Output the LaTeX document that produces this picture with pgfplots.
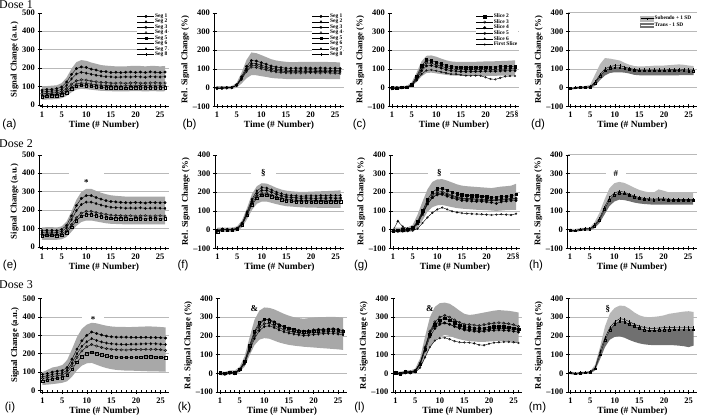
\documentclass[border=0pt]{standalone}
\usepackage{fontspec}
\setmainfont{Liberation Serif}
\newfontfamily\arialfont{Liberation Sans}
\usepackage{pgfplots}
\pgfplotsset{compat=1.18}
\usepackage{pgfplotstable}
\usepgfplotslibrary{fillbetween}

\definecolor{bandc}{gray}{0.66}
\definecolor{lband}{gray}{0.72}
\definecolor{dband}{gray}{0.44}

\pgfplotstableread{
t lo hi s1 s2 s3 s4 s5
1 28 100 80 70 60 52 45
2 29 102 83 72 61 54 47
3 30 104 84 75 64 55 49
4 31 106 88 76 66 58 50
5 36 118 97 84 72 63 55
6 48 148 124 106 88 76 67
7 68 196 165 141 112 97 87
8 83 232 197 168 131 113 102
9 87 243 206 177 136 118 106
10 85 239 203 172 134 117 104
11 82 230 194 166 129 112 101
12 79 223 189 161 125 109 98
13 76 216 181 157 122 106 95
14 75 213 180 153 121 104 94
15 74 211 176 152 118 104 92
16 73 209 177 150 118 103 93
17 73 209 175 151 119 102 92
18 73 209 177 152 117 103 91
19 74 211 178 151 119 104 93
20 74 211 176 153 120 103 94
21 74 211 178 152 118 105 92
22 73 209 176 150 118 103 93
23 74 211 179 153 119 104 94
24 74 211 177 152 120 103 92
25 73 209 176 151 118 104 93
26 74 211 178 153 119 103 94
}\tA

\pgfplotstableread{
t lo hi s1 s2 s3 s4
1 -8 8 -3 -5 -2 -4
2 -8 8 -2 -3 -4 -1
3 -8 8 0 -1 0 -2
4 -8 8 0 0 1 0
5 0 26 15 13 12 11
6 22 80 58 52 48 44
7 50 148 113 101 94 86
8 67 188 145 130 120 110
9 66 184 142 127 118 108
10 61 174 133 120 110 101
11 57 163 125 112 103 95
12 52 152 116 104 96 88
13 49 145 110 99 91 84
14 48 141 107 96 89 81
15 46 138 104 94 86 79
16 45 136 103 92 85 78
17 45 136 104 93 84 79
18 46 138 104 94 86 78
19 46 138 105 94 86 79
20 46 138 104 95 87 80
21 46 138 103 94 85 79
22 46 138 105 93 86 78
23 46 138 104 94 87 80
24 45 136 103 92 85 78
25 45 136 104 93 84 77
26 45 134 102 91 84 76
}\tB

\pgfplotstableread{
t lo hi c1 c2 c3 f
1 -10 8 0 -3 -5 -8
2 -10 8 -2 0 -3 -5
3 -8 8 2 1 0 -2
4 -6 10 3 2 1 0
5 5 28 16 14 12 10
6 30 80 60 53 46 38
7 60 140 116 103 90 72
8 78 170 148 132 116 92
9 80 172 145 130 118 95
10 76 165 136 122 112 90
11 72 155 127 114 104 84
12 68 146 118 106 96 78
13 65 140 112 101 90 72
14 64 138 110 98 88 72
15 63 137 108 96 86 68
16 62 137 107 95 85 64
17 62 137 107 95 85 63
18 63 138 108 96 86 64
19 63 139 109 96 87 63
20 63 140 110 97 88 55
21 63 140 110 97 88 46
22 63 141 110 98 88 44
23 64 142 111 98 89 52
24 64 143 112 99 90 60
25 64 144 112 100 90 62
26 65 146 113 100 90 62
}\tC

\pgfplotstableread{
t lo hi sub tr
1 -10 0 -5 -5
2 -8 5 0 -1
3 -5 8 3 2
4 -5 8 2 1
5 -3 15 5 3
6 10 70 30 25
7 40 125 70 62
8 65 158 100 90
9 78 155 112 102
10 82 150 118 106
11 82 145 118 106
12 80 132 110 102
13 75 122 103 98
14 68 115 97 92
15 66 113 95 90
16 66 114 95 90
17 66 115 95 90
18 66 117 95 90
19 66 118 95 90
20 66 118 95 90
21 66 120 96 90
22 66 122 96 90
23 66 124 97 91
24 67 122 96 90
25 67 118 95 89
26 67 115 95 89
}\tD

\pgfplotstableread{
t lo hi e1 e2 e3 e4
1 38 105 88 78 68 60
2 38 107 90 80 70 62
3 38 107 90 80 70 62
4 38 105 88 78 68 60
5 41 111 94 83 72 63
6 54 137 117 103 87 77
7 82 193 168 147 121 108
8 114 256 225 197 158 143
9 135 298 263 230 183 166
10 143 315 278 243 193 175
11 143 315 278 243 193 175
12 138 304 268 235 187 169
13 133 294 259 227 181 164
14 128 286 251 220 176 159
15 125 280 246 215 172 155
16 124 277 244 213 171 154
17 123 275 242 212 169 153
18 122 273 240 210 168 152
19 122 273 239 211 169 151
20 122 273 241 210 167 153
21 122 273 240 212 168 152
22 122 273 238 209 169 151
23 122 273 241 210 167 153
24 122 273 240 211 168 152
25 122 273 239 210 169 151
26 122 273 240 209 167 152
}\tE

\pgfplotstableread{
t lo hi f1 f2 f3 f4
1 -15 10 -8 -5 -3 -10
2 -12 10 2 -2 3 0
3 -12 10 2 0 0 -2
4 -12 10 0 -3 2 -2
5 -8 18 6 4 7 3
6 12 50 32 29 34 26
7 55 115 88 82 95 76
8 105 190 151 140 162 132
9 138 232 193 179 207 168
10 150 248 210 195 225 183
11 150 246 210 195 222 185
12 143 235 200 185 212 176
13 136 223 189 176 200 167
14 130 214 181 168 192 159
15 125 208 174 162 185 154
16 123 205 172 160 183 152
17 121 203 170 157 181 150
18 119 201 167 156 178 148
19 118 202 169 155 180 149
20 117 203 168 157 181 147
21 117 204 167 156 180 148
22 116 205 169 155 182 149
23 116 206 168 157 181 147
24 116 207 170 156 183 148
25 116 208 168 155 182 149
26 116 210 169 157 183 148
}\tF

\pgfplotstableread{
t lo hi g1 g2 g3 g4 f
1 -15 10 -5 -8 -10 -5 -5
2 -15 10 -3 -5 -8 45 -10
3 -15 10 0 -2 -5 15 -10
4 -12 12 2 0 -3 5 -8
5 -8 25 10 8 5 5 -6
6 10 80 45 40 35 30 5
7 50 150 100 92 85 80 35
8 95 215 160 148 138 135 65
9 120 255 200 185 172 170 90
10 130 268 218 200 186 192 108
11 132 270 222 203 188 195 118
12 126 262 210 192 178 186 108
13 120 252 200 183 170 178 98
14 115 242 192 175 162 170 92
15 112 235 186 168 156 165 88
16 110 232 184 166 154 162 86
17 108 230 182 165 152 160 84
18 106 228 180 163 150 158 83
19 105 226 178 162 150 158 82
20 104 224 175 160 148 157 80
21 102 222 172 158 145 156 78
22 100 226 174 160 140 157 80
23 102 230 176 162 148 158 82
24 104 232 178 164 152 160 80
25 105 235 180 166 154 162 78
26 106 245 188 168 155 165 85
}\tG

\pgfplotstableread{
t lo hi sub tr
1 -12 5 -3 -5
2 -12 3 -5 -6
3 -8 8 2 0
4 -5 10 5 3
5 -5 10 5 3
6 8 40 25 20
7 35 90 60 52
8 80 160 120 108
9 125 220 170 158
10 150 248 195 185
11 160 255 205 195
12 158 250 200 192
13 152 238 190 183
14 145 225 180 174
15 140 213 172 166
16 137 205 168 162
17 135 200 165 160
18 133 198 163 158
19 133 215 165 160
20 133 208 165 160
21 133 200 163 158
22 133 200 162 157
23 133 200 162 157
24 133 200 162 157
25 133 200 162 157
26 133 200 162 157
}\tH

\pgfplotstableread{
t lo hi i1 i2 i3 i4
1 30 100 88 75 65 52
2 32 112 92 80 70 56
3 35 125 100 88 76 62
4 38 130 105 92 80 66
5 42 138 108 95 84 70
6 50 165 125 110 98 82
7 75 225 170 150 135 115
8 110 290 225 200 180 155
9 135 335 270 240 215 185
10 148 358 300 265 238 200
11 150 368 318 282 250 208
12 140 365 310 272 242 200
13 130 358 302 264 234 194
14 122 352 296 258 228 188
15 116 348 292 254 224 184
16 112 346 290 252 222 182
17 110 346 290 251 221 181
18 108 345 290 250 220 180
19 108 345 289 252 222 181
20 107 346 289 252 222 181
21 106 347 289 253 223 182
22 105 348 289 254 224 183
23 104 348 288 254 224 183
24 104 347 288 254 224 182
25 103 345 287 252 222 180
26 102 343 285 250 218 178
}\tI

\pgfplotstableread{
t lo hi k1 k2 k3 k4
1 -10 10 0 -2 0 2
2 -12 8 -3 -5 -2 0
3 -5 15 5 2 0 6
4 -6 15 3 0 -2 4
5 8 35 20 18 15 22
6 35 90 60 55 50 65
7 95 190 140 130 120 148
8 150 285 215 200 185 225
9 180 335 260 245 228 270
10 188 352 285 265 250 290
11 185 350 288 268 254 282
12 175 342 275 256 245 270
13 165 330 260 244 232 258
14 158 318 250 234 222 248
15 152 308 242 226 215 240
16 148 300 235 220 210 232
17 145 295 230 216 206 226
18 142 292 225 212 202 222
19 140 295 228 214 204 224
20 138 298 232 218 207 226
21 136 300 235 220 210 228
22 134 300 235 221 212 230
23 132 302 236 222 213 232
24 130 302 238 222 213 234
25 128 300 235 220 210 230
26 125 298 228 216 206 224
}\tK

\pgfplotstableread{
t lo hi l1 l2 l3 l4 f
1 -8 10 5 2 0 3 0
2 -10 8 0 -2 -5 -3 -5
3 -3 15 10 8 5 6 0
4 -4 15 8 5 3 4 0
5 4 25 15 12 10 14 5
6 25 80 55 50 45 52 30
7 80 195 140 130 120 135 85
8 140 300 225 210 195 218 140
9 175 355 275 260 240 265 175
10 195 375 300 285 262 270 188
11 205 378 310 295 270 268 190
12 200 372 300 285 262 262 182
13 190 355 285 270 250 252 172
14 182 335 272 258 240 245 166
15 176 318 262 248 232 238 165
16 172 312 260 245 228 234 164
17 170 315 258 242 225 232 160
18 168 320 255 240 222 230 152
19 168 325 260 242 225 232 150
20 170 330 265 245 228 236 158
21 172 335 268 248 230 240 164
22 174 338 270 250 232 242 166
23 172 336 268 248 230 240 168
24 170 334 265 246 228 238 168
25 168 330 260 242 225 235 166
26 165 325 250 236 220 232 162
}\tL

\pgfplotstableread{
t lo hi sub tr
1 -5 10 5 3
2 -8 5 0 -2
3 -5 8 3 0
4 -3 10 5 3
5 0 12 8 5
6 15 45 30 25
7 75 140 118 100
8 140 250 190 178
9 180 320 245 232
10 195 350 275 262
11 198 362 292 278
12 190 360 288 275
13 178 345 275 262
14 168 325 262 250
15 160 310 252 240
16 155 302 245 232
17 152 300 240 228
18 150 302 240 228
19 150 305 242 230
20 150 310 244 232
21 150 318 245 232
22 150 322 246 233
23 148 326 246 233
24 145 330 246 233
25 140 332 246 233
26 148 328 246 233
}\tM

\tikzset{
  ann/.style={font=\fontsize{9}{9}\selectfont\bfseries, anchor=base},
  gap/.style={fill=white, inner sep=0pt, minimum height=3bp},
  dose/.style={anchor=base west, inner sep=0pt, font=\fontsize{12}{12}\selectfont},
}

\pgfplotsset{
  panel/.style={
    scale only axis, width=129bp, height=93.5bp,
    xmin=0.5, xmax=26.7,
    axis lines*=left, axis line style={-, black, line width=0.6pt},
    clip=false,
    xtick={1,5,10,15,20,25}, xticklabels={1,5,10,15,20,25},
    minor xtick={1,...,26},
    tick align=center,
    major tick length=4bp, minor tick length=3bp,
    tick style={black, line width=0.5pt},
    tick label style={font=\fontsize{8.5}{9}\selectfont\bfseries},
    xticklabel style={yshift=-0.5bp},
    yticklabel style={inner sep=1bp, xshift=-1.5bp},
    xlabel={Time (\# Number)},
    xlabel style={font=\fontsize{9.5}{10}\selectfont\bfseries, yshift=3.5bp},
    ylabel style={font=\fontsize{8.7}{9}\selectfont\bfseries},
    ylabel shift=-3bp,
    major grid style={gray!55, line width=0.6pt},
    legend cell align=left,
  },
  abs/.style={panel, ymin=-8, ymax=500, ytick={0,100,...,500},
    yticklabels={0,100,200,300,400,500},
    extra y ticks={100,200,300,400}, extra y tick labels={},
    extra y tick style={grid=major, major tick length=0pt},
    ylabel={Signal Change (a.u.)}},
  rel/.style={panel, ymin=-100, ymax=400, ytick={-100,0,...,400},
    yticklabels={--100,0,100,200,300,400},
    extra y ticks={0,100,200,300}, extra y tick labels={},
    extra y tick style={grid=major, major tick length=0pt},
    ylabel={Rel. Signal Change (\%)}},
  reltop/.style={rel, extra y ticks={0,100,200,300,400}},
  ser/.style={black, line width=0.4pt, mark size=1.25pt, mark options={solid, fill=black}},
  opn/.style={black, line width=0.4pt, mark size=1.25pt, mark options={solid, fill=white}},
  segleg/.style={legend style={at={(1,1)}, anchor=north east, draw=none, fill=white,
    font=\fontsize{5.5}{6}\selectfont\bfseries, inner sep=0.5pt,
    nodes={inner sep=0.4pt}, row sep=-0.5pt}},
  sdleg/.style={legend style={at={(0.97,0.985)}, anchor=north east, draw=none, fill=white,
    font=\fontsize{5.4}{6}\selectfont\bfseries, inner sep=0.8pt,
    nodes={inner sep=0.8pt}}},
}

\newcommand{\band}[3]{%
  \addplot[draw=none, name path=#1hi, forget plot] table[x=t,y=hi]{#2};
  \addplot[draw=none, name path=#1lo, forget plot] table[x=t,y=lo]{#2};
  \addplot[fill=#3, draw=none, forget plot] fill between[of=#1hi and #1lo];}

\newcommand{\sdband}[2]{%
  \addplot[draw=none, name path=#1hi, forget plot] table[x=t,y=hi]{#2};
  \addplot[draw=none, name path=#1lo, forget plot] table[x=t,y=lo]{#2};
  \addplot[draw=none, name path=#1tr, forget plot] table[x=t,y=tr]{#2};
  \addplot[fill=lband, draw=none, forget plot] fill between[of=#1hi and #1tr];
  \addplot[fill=dband, draw=none, forget plot] fill between[of=#1tr and #1lo];
  \addplot[ser, mark=|, mark size=1.5pt, forget plot] table[x=t,y=sub]{#2};
  \addplot[opn, mark=square, mark size=0.9pt, forget plot] table[x=t,y=tr]{#2};}

\begin{document}
\begin{tikzpicture}

\node[dose] at (-1bp,408.7bp) {Dose 1};
\node[dose] at (-1bp,269bp) {Dose 2};
\node[dose] at (-1bp,128.5bp) {Dose 3};

\begin{scope}[every node/.style={font=\arialfont\fontsize{11.5}{12}\selectfont}]
\node at (9.5bp,292bp) {(a)};
\node at (189.5bp,292bp) {(b)};
\node at (359.5bp,292bp) {(c)};
\node at (538bp,292bp) {(d)};
\node at (10bp,151bp) {(e)};
\node at (183bp,151bp) {(f)};
\node at (361bp,151bp) {(g)};
\node at (536bp,151bp) {(h)};
\node at (10bp,9bp) {(i)};
\node at (184.5bp,9bp) {(k)};
\node at (359.5bp,9bp) {(l)};
\node at (537.5bp,9bp) {(m)};
\end{scope}

% (a)
\begin{axis}[abs, at={(39.5bp,310.7bp)}, anchor=south west, segleg]
\band{a}{\tA}{bandc}
\addplot[ser, mark=*] table[x=t,y=s1]{\tA}; \addlegendentry{Seg 1}
\addplot[ser, mark=diamond*] table[x=t,y=s2]{\tA}; \addlegendentry{Seg 2}
\addplot[opn, mark=o] table[x=t,y=s3]{\tA}; \addlegendentry{Seg 3}
\addplot[opn, mark=diamond] table[x=t,y=s4]{\tA}; \addlegendentry{Seg 4}
\addplot[opn, mark=square] table[x=t,y=s5]{\tA}; \addlegendentry{Seg 5}
\addlegendimage{black, line width=0.4pt}; \addlegendentry{Seg 6}
\addlegendimage{ser, mark=triangle*}; \addlegendentry{Seg 7}
\addlegendimage{ser, mark=+}; \addlegendentry{Seg 8}
\end{axis}

% (b)
\begin{axis}[rel, at={(214.5bp,310.7bp)}, anchor=south west, segleg]
\band{b}{\tB}{bandc}
\addplot[ser, mark=*] table[x=t,y=s1]{\tB}; \addlegendentry{Seg 1}
\addplot[ser, mark=diamond*] table[x=t,y=s2]{\tB}; \addlegendentry{Seg 2}
\addplot[opn, mark=o] table[x=t,y=s3]{\tB}; \addlegendentry{Seg 3}
\addplot[opn, mark=diamond] table[x=t,y=s4]{\tB}; \addlegendentry{Seg 4}
\addlegendimage{opn, mark=square}; \addlegendentry{Seg 5}
\addlegendimage{black, line width=0.4pt}; \addlegendentry{Seg 6}
\addlegendimage{ser, mark=triangle*}; \addlegendentry{Seg 7}
\addlegendimage{ser, mark=+}; \addlegendentry{Seg 8}
\end{axis}

% (c)
\begin{axis}[rel, at={(389.5bp,310.7bp)}, anchor=south west, segleg]
\band{c}{\tC}{bandc}
\addplot[ser, mark=square*] table[x=t,y=c1]{\tC}; \addlegendentry{Slice 2}
\addplot[opn, mark=o] table[x=t,y=c2]{\tC}; \addlegendentry{Slice 3}
\addplot[ser, mark=*] table[x=t,y=c3]{\tC}; \addlegendentry{Slice 4}
\addlegendimage{opn, mark=o}; \addlegendentry{Slice 5}
\addlegendimage{ser, mark=triangle*}; \addlegendentry{Slice 6}
\addplot[opn, mark=o, mark size=0.9pt] table[x=t,y=f]{\tC}; \addlegendentry{First Slice}
\node[font=\fontsize{8}{8}\selectfont\bfseries, anchor=north] at (axis cs:26.3,-100) [yshift=-1.5bp] {\S};
\end{axis}

% (d)
\begin{axis}[reltop, at={(568bp,310.7bp)}, anchor=south west, sdleg]
\sdband{d}{\tD}
\addlegendimage{legend image code/.code={\fill[lband] (0bp,-2.2bp) rectangle (13bp,2.2bp); \draw[black, line width=0.4pt] (0bp,0bp) -- (13bp,0bp); \draw[black, line width=0.4pt] (6.5bp,-1bp) -- (6.5bp,1bp);}}
\addlegendentry{Subendo + 1 SD}
\addlegendimage{legend image code/.code={\fill[dband] (0bp,-2.2bp) rectangle (13bp,2.2bp); \draw[white, line width=0.4pt] (0bp,0bp) -- (13bp,0bp);}}
\addlegendentry{Trans - 1 SD}
\end{axis}

% (e)
\begin{axis}[abs, at={(39.5bp,168.7bp)}, anchor=south west]
\band{e}{\tE}{bandc}
\addplot[ser, mark=*] table[x=t,y=e1]{\tE};
\addplot[ser, mark=diamond*] table[x=t,y=e2]{\tE};
\addplot[opn, mark=o] table[x=t,y=e3]{\tE};
\addplot[opn, mark=square] table[x=t,y=e4]{\tE};
\node[gap, minimum width=35bp] at (axis cs:10,400) {};
\node[ann] at (axis cs:10,335) {*};
\end{axis}

% (f)
\begin{axis}[rel, at={(215bp,168.7bp)}, anchor=south west]
\band{f}{\tF}{bandc}
\addplot[ser, mark=*] table[x=t,y=f1]{\tF};
\addplot[opn, mark=o] table[x=t,y=f2]{\tF};
\addplot[ser, mark=diamond*] table[x=t,y=f3]{\tF};
\addplot[opn, mark=square] table[x=t,y=f4]{\tF};
\node[gap, minimum width=25bp] at (axis cs:10.3,300) {};
\node[ann] at (axis cs:10.3,290) {\S};
\end{axis}

% (g)
\begin{axis}[rel, at={(390.5bp,168.7bp)}, anchor=south west]
\band{g}{\tG}{bandc}
\addplot[ser, mark=square*] table[x=t,y=g1]{\tG};
\addplot[opn, mark=o] table[x=t,y=g2]{\tG};
\addplot[ser, mark=*] table[x=t,y=g3]{\tG};
\addplot[ser, mark=triangle*] table[x=t,y=g4]{\tG};
\addplot[opn, mark=o, mark size=0.9pt] table[x=t,y=f]{\tG};
\node[gap, minimum width=22bp] at (axis cs:10.4,300) {};
\node[ann] at (axis cs:10.4,290) {\S};
\node[font=\fontsize{8}{8}\selectfont\bfseries, anchor=north] at (axis cs:26.3,-100) [yshift=-1.5bp] {\S};
\end{axis}

% (h)
\begin{axis}[reltop, at={(567.5bp,168.7bp)}, anchor=south west]
\sdband{h}{\tH}
\node[gap, minimum width=20bp] at (axis cs:10.3,300) {};
\node[ann] at (axis cs:10.3,284) {\#};
\end{axis}

% (i)
\begin{axis}[abs, at={(40bp,25bp)}, anchor=south west]
\band{i}{\tI}{bandc}
\addplot[ser, mark=*] table[x=t,y=i1]{\tI};
\addplot[ser, mark=diamond*] table[x=t,y=i2]{\tI};
\addplot[opn, mark=o] table[x=t,y=i3]{\tI};
\addplot[opn, mark=square] table[x=t,y=i4]{\tI};
\node[gap, minimum width=22bp] at (axis cs:11.3,400) {};
\node[ann] at (axis cs:11.3,368) {*};
\end{axis}

% (k)
\begin{axis}[rel, at={(217.5bp,25bp)}, anchor=south west]
\band{k}{\tK}{bandc}
\addplot[ser, mark=*] table[x=t,y=k1]{\tK};
\addplot[opn, mark=o] table[x=t,y=k2]{\tK};
\addplot[ser, mark=diamond*] table[x=t,y=k3]{\tK};
\addplot[opn, mark=square] table[x=t,y=k4]{\tK};
\node[ann] at (axis cs:8,332) {\&};
\end{axis}

% (l)
\begin{axis}[rel, at={(393bp,25bp)}, anchor=south west]
\band{l}{\tL}{bandc}
\addplot[opn, mark=o] table[x=t,y=l1]{\tL};
\addplot[ser, mark=square*] table[x=t,y=l2]{\tL};
\addplot[ser, mark=*] table[x=t,y=l3]{\tL};
\addplot[ser, mark=triangle*] table[x=t,y=l4]{\tL};
\addplot[opn, mark=o, mark size=0.9pt] table[x=t,y=f]{\tL};
\node[ann] at (axis cs:8,332) {\&};
\end{axis}

% (m)
\begin{axis}[reltop, at={(568bp,25bp)}, anchor=south west]
\sdband{m}{\tM}
\node[ann] at (axis cs:8.6,333) {\S};
\end{axis}

\pgfresetboundingbox
\useasboundingbox (0,0) rectangle (701bp,417bp);
\end{tikzpicture}
\end{document}
